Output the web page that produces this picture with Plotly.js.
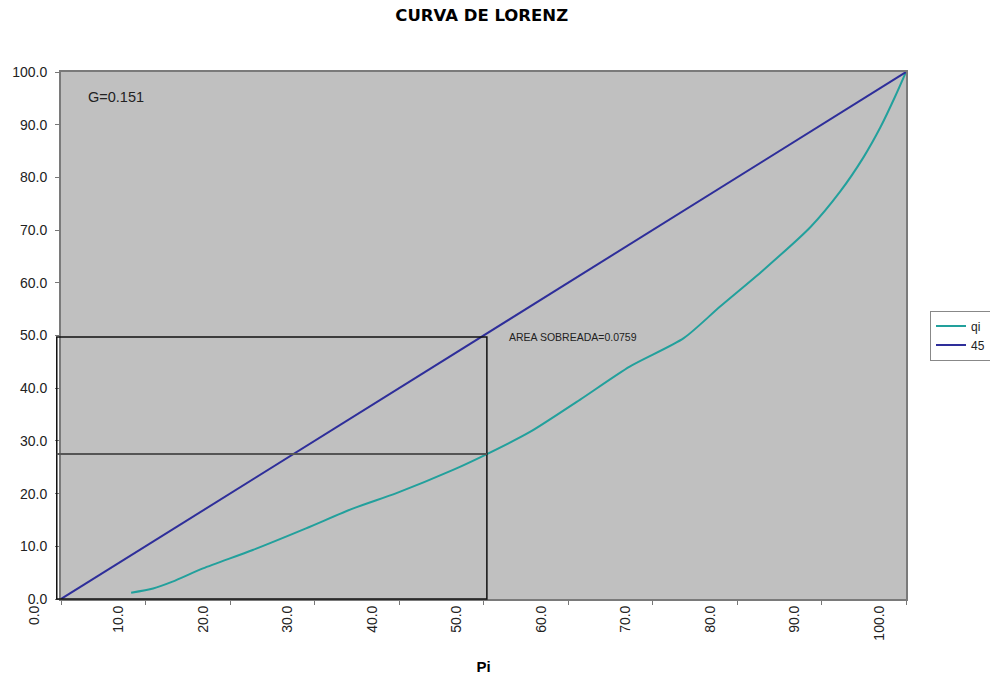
<!DOCTYPE html>
<html>
<head>
<meta charset="utf-8">
<script src="https://cdn.plot.ly/plotly-3.0.1.min.js"></script>
<style>html,body{margin:0;padding:0;background:#fff;}#chart{width:990px;height:675px;}</style>
</head>
<body>
<div id="chart"></div>
<script>
// Lorenz curve data
const pi = [8.3, 10.9, 13.2, 16.8, 22.7, 29.0, 34.6, 39.7, 46.4, 50.4, 55.5, 61.4, 67.3, 73.7, 78.0, 83.1, 88.7, 92.2, 95.0, 97.0, 98.7, 100];
const qi = [1.2, 2.0, 3.3, 5.8, 9.3, 13.4, 17.2, 20.1, 24.5, 27.5, 31.7, 37.8, 44.1, 49.5, 55.5, 62.4, 70.6, 77.3, 83.9, 89.6, 95.3, 100];
const diagX = [0, 100];
const diagY = [0, 100];
const seriesNames = ["qi", "45"];
const giniText = "G=0.151";
const areaText = "AREA SOBREADA=0.0759";
// rectangle marking point (Pi=50.4, qi=27.5) and diagonal (50)
const rectPi = 50.4;
const rectTop = 49.7;
const rectQi = 27.5;

const FONT = "Liberation Sans, Arial, sans-serif";

const traces = [
  {x: pi, y: qi, name: seriesNames[0], mode: "lines", type: "scatter",
   line: {color: "#22A09C", width: 2, shape: "spline", smoothing: 0.7}},
  {x: diagX, y: diagY, name: seriesNames[1], mode: "lines", type: "scatter",
   line: {color: "#2E2E9A", width: 2}}
];

const layout = {
  width: 990, height: 675,
  margin: {l: 61, r: 84, t: 72, b: 76, pad: 0},
  paper_bgcolor: "#ffffff",
  plot_bgcolor: "#C0C0C0",
  font: {family: FONT, size: 12, color: "#222"},
  title: {text: "<b>CURVA DE LORENZ</b>", xref: "container", x: 0.4866, xanchor: "center",
          yref: "container", y: 0.977, yanchor: "middle",
          font: {family: "DejaVu Sans, Liberation Sans, sans-serif", size: 16.5, color: "#000"}},
  xaxis: {range: [0, 100], dtick: 10, tick0: 0, tickformat: ".1f", tickangle: -90,
          ticklabelshift: -27, ticklabelstandoff: -5, ticks: "outside", ticklen: 4, tickcolor: "#777",
          showgrid: false, zeroline: false, showline: true, linecolor: "#7a7a7a", linewidth: 2, mirror: true,
          tickfont: {family: FONT, size: 14, color: "#222"},
          title: {text: "<b>Pi</b>", font: {family: FONT, size: 15, color: "#000"}, standoff: 28}},
  yaxis: {range: [0, 100], dtick: 10, tick0: 0, tickformat: ".1f",
          ticks: "outside", ticklen: 4, tickcolor: "#777", ticklabelstandoff: 5,
          showgrid: false, zeroline: false, showline: true, linecolor: "#7a7a7a", linewidth: 2, mirror: true,
          tickfont: {family: FONT, size: 14, color: "#222"}},
  showlegend: true,
  legend: {xref: "container", yref: "container", x: 0.9394, xanchor: "left", y: 0.54, yanchor: "top",
           bgcolor: "#ffffff", bordercolor: "#888", borderwidth: 1,
           font: {family: FONT, size: 12, color: "#222"}, itemwidth: 30, tracegroupgap: 0},
  shapes: [
    {type: "rect", xref: "paper", yref: "paper", x0: -0.005, x1: rectPi / 100, y0: 0, y1: rectTop / 100,
     line: {color: "#111", width: 1.5}, fillcolor: "rgba(0,0,0,0)", layer: "above"},
    {type: "line", xref: "paper", yref: "paper", x0: -0.005, x1: rectPi / 100, y0: rectQi / 100, y1: rectQi / 100,
     line: {color: "#555", width: 2}, layer: "above"}
  ],
  annotations: [
    {text: giniText, xref: "x", yref: "y", x: 2.9, y: 95.3, xanchor: "left", yanchor: "middle",
     showarrow: false, font: {family: FONT, size: 14.5, color: "#222"}},
    {text: areaText, xref: "x", yref: "y", x: 52.8, y: 49.8, xanchor: "left", yanchor: "middle",
     showarrow: false, font: {family: FONT, size: 10.5, color: "#222"}}
  ]
};

Plotly.newPlot("chart", traces, layout, {displayModeBar: false, staticPlot: true});
</script>
</body>
</html>
